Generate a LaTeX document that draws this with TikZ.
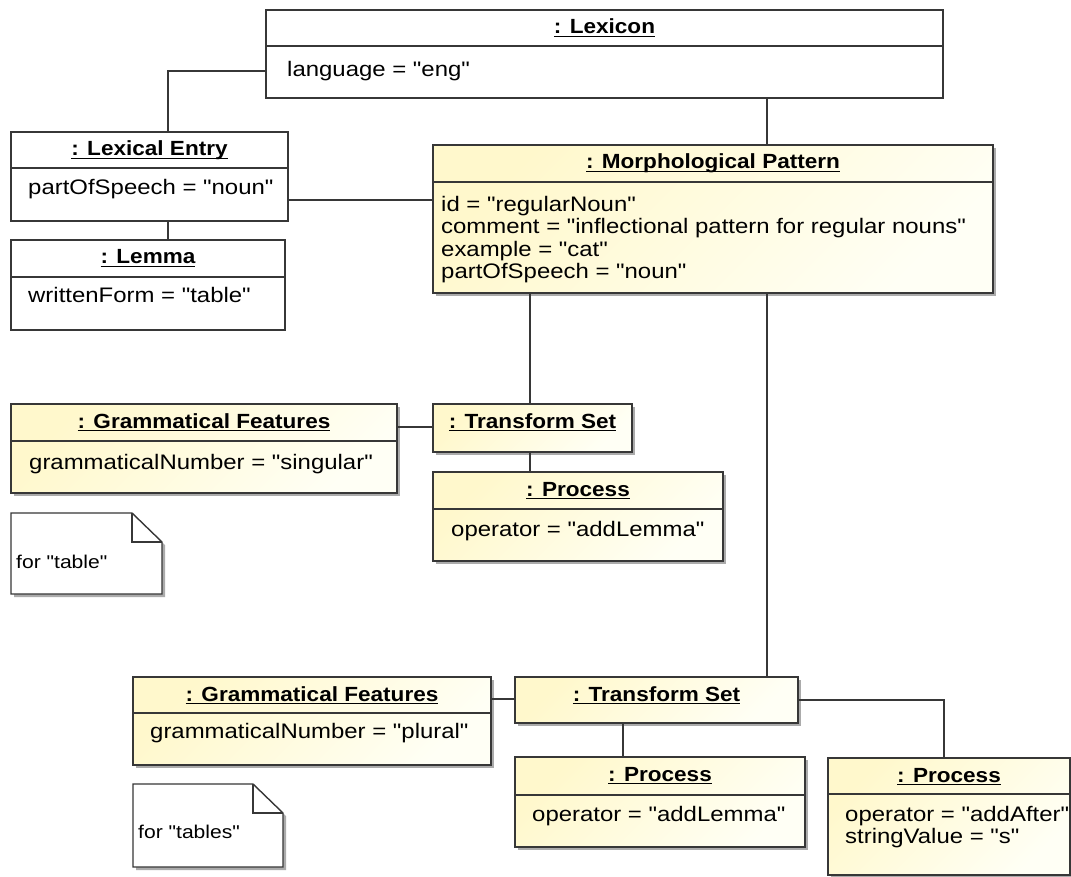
\documentclass[tikz,border=0pt]{standalone}
\usepackage{fontspec}
\setmainfont{Liberation Sans}[FakeStretch=1.14, Ligatures=TeXOff]
\newfontfamily\headfont{Liberation Sans}[FakeStretch=1.1, Ligatures=TeXOff]
\usetikzlibrary{shadows}

\definecolor{umlline}{RGB}{55,55,55}
\definecolor{fillA}{RGB}{255,248,204}
\definecolor{fillB}{RGB}{255,255,245}

% bold object names are underlined with a rule of fixed thickness
\newcommand{\ulbox}[1]{\setbox0=\hbox{#1}\dimen0=\wd0\relax\rlap{\box0}\rule[-3.2pt]{\dimen0}{1.4pt}}

% object box: name, style, x1, y1, x2, y2, object name
\newcommand{\umlobj}[7]{%
  \node[#2, anchor=north west, minimum width={#5-#3}, minimum height={#6-#4}] (#1) at (#3,#4) {};
  \node[objtitle] (#1-title) at ({(#3+#5)/2},{#4+18.5}) {\ulbox{#7}};
}

\tikzset{
  plainobj/.style={draw=umlline, line width=1.4pt, fill=white, inner sep=0pt, outer sep=0pt},
  shadedobj/.style={draw=umlline, line width=1.4pt, inner sep=0pt, outer sep=0pt,
    top color=fillA, bottom color=fillB, shading angle=45,
    drop shadow={shadow xshift=3pt, shadow yshift=-3pt, fill=black!60, opacity=0.55}},
  objtitle/.style={inner sep=0pt, text height=15pt, text depth=4pt,
    font=\headfont\fontsize{20.5}{22}\selectfont\bfseries},
  attr/.style={anchor=west, inner sep=0pt, text height=15pt, text depth=4pt,
    font=\fontsize{21}{22}\selectfont},
  notetext/.style={anchor=west, inner sep=0pt, font=\fontsize{18.5}{20}\selectfont},
  sepline/.style={draw=umlline, line width=1.4pt},
  link/.style={draw=umlline, line width=1.4pt},
  noteshadow/.style={fill=black!60, opacity=0.55},
  notebody/.style={fill=white, draw=umlline, line width=1.4pt, line join=miter},
}

\begin{document}
\begin{tikzpicture}[x=1pt, y=-1pt]
\useasboundingbox[fill=white] (0,0) rectangle (1071,877);

% ---------- objects ----------
\umlobj{lex}{plainobj}{266}{10}{943}{98}{: Lexicon}
\draw[sepline] (266,46) -- (943,46);
\node[attr] (lex-a1) at (287,71) {language = "eng"};

\umlobj{entry}{plainobj}{11}{132}{288}{221}{: Lexical Entry}
\draw[sepline] (11,168) -- (288,168);
\node[attr] (entry-a1) at (28,189) {partOfSpeech = "noun"};

\umlobj{lemma}{plainobj}{11}{240}{285}{330}{: Lemma}
\draw[sepline] (11,277) -- (285,277);
\node[attr] (lemma-a1) at (28,297) {writtenForm = "table"};

\umlobj{morph}{shadedobj}{433}{145}{993}{293}{: Morphological Pattern}
\draw[sepline] (433,182) -- (993,182);
\node[attr] (morph-a1) at (441,206) {id = "regularNoun"};
\node[attr] (morph-a2) at (441,228.5) {comment = "inflectional pattern for regular nouns"};
\node[attr] (morph-a3) at (441,251) {example = "cat"};
\node[attr] (morph-a4) at (441,273) {partOfSpeech = "noun"};

\umlobj{gfa}{shadedobj}{11}{404}{397}{493}{: Grammatical Features}
\draw[sepline] (11,441) -- (397,441);
\node[attr] (gfa-a1) at (29,464) {grammaticalNumber = "singular"};

\umlobj{tsa}{shadedobj}{433}{404}{632}{452}{: Transform Set}

\umlobj{pra}{shadedobj}{433}{472}{723}{561}{: Process}
\draw[sepline] (433,509) -- (723,509);
\node[attr] (pra-a1) at (451,531) {operator = "addLemma"};

\umlobj{tsb}{shadedobj}{515}{677}{798}{723}{: Transform Set}

\umlobj{gfb}{shadedobj}{133}{677}{491}{765}{: Grammatical Features}
\draw[sepline] (133,713) -- (491,713);
\node[attr] (gfb-a1) at (150,733) {grammaticalNumber = "plural"};

\umlobj{prb}{shadedobj}{515}{757}{805}{847}{: Process}
\draw[sepline] (515,795) -- (805,795);
\node[attr] (prb-a1) at (532,816) {operator = "addLemma"};

\umlobj{prc}{shadedobj}{828}{758}{1070}{875}{: Process}
\draw[sepline] (828,794) -- (1070,794);
\node[attr] (prc-a1) at (845,816) {operator = "addAfter"};
\node[attr] (prc-a2) at (845,838) {stringValue = "s"};

% ---------- notes ----------
\fill[noteshadow] (14,516) -- (135,516) -- (165,545) -- (165,597) -- (14,597) -- cycle;
\path[notebody] (11,513) -- (132,513) -- (162,542) -- (162,594) -- (11,594) -- cycle;
\draw[sepline] (132,513) -- (132,542) -- (162,542);
\node[notetext] (note-a) at (16,562) {for "table"};

\fill[noteshadow] (136,787) -- (256,787) -- (286,816) -- (286,870) -- (136,870) -- cycle;
\path[notebody] (133,784) -- (253,784) -- (283,813) -- (283,867) -- (133,867) -- cycle;
\draw[sepline] (253,784) -- (253,813) -- (283,813);
\node[notetext] (note-b) at (138,832) {for "tables"};

% ---------- links ----------
\draw[link] (lex.west |- lex-a1) -| ([xshift=18.5pt]entry.north);
\draw[link] ([xshift=18.5pt]entry.south) -- ([xshift=18.5pt]entry.south |- lemma.north);
\draw[link] ([yshift=-23.5pt]entry.east) -- ([yshift=-23.5pt]entry.east -| morph.west);
\draw[link] ([xshift=162.5pt]lex.south) -- ([xshift=162.5pt]lex.south |- morph.north);
\draw[link] ([xshift=-2.5pt]tsa.north |- morph.south) -- ([xshift=-2.5pt]tsa.north);
\draw[link] ([xshift=54pt]morph.south) -- ([xshift=54pt]morph.south |- tsb.north);
\draw[link] ([yshift=21.5pt]gfa.east) -- ([yshift=21.5pt]gfa.east -| tsa.west);
\draw[link] ([xshift=-2.5pt]tsa.south) -- ([xshift=-2.5pt]tsa.south |- pra.north);
\draw[link] ([yshift=22pt]gfb.east) -- ([yshift=22pt]gfb.east -| tsb.west);
\draw[link] ([xshift=-33.5pt]tsb.south) -- ([xshift=-33.5pt]tsb.south |- prb.north);
\draw[link] (tsb.east) -| ([xshift=-5pt]prc.north);
\end{tikzpicture}
\end{document}
